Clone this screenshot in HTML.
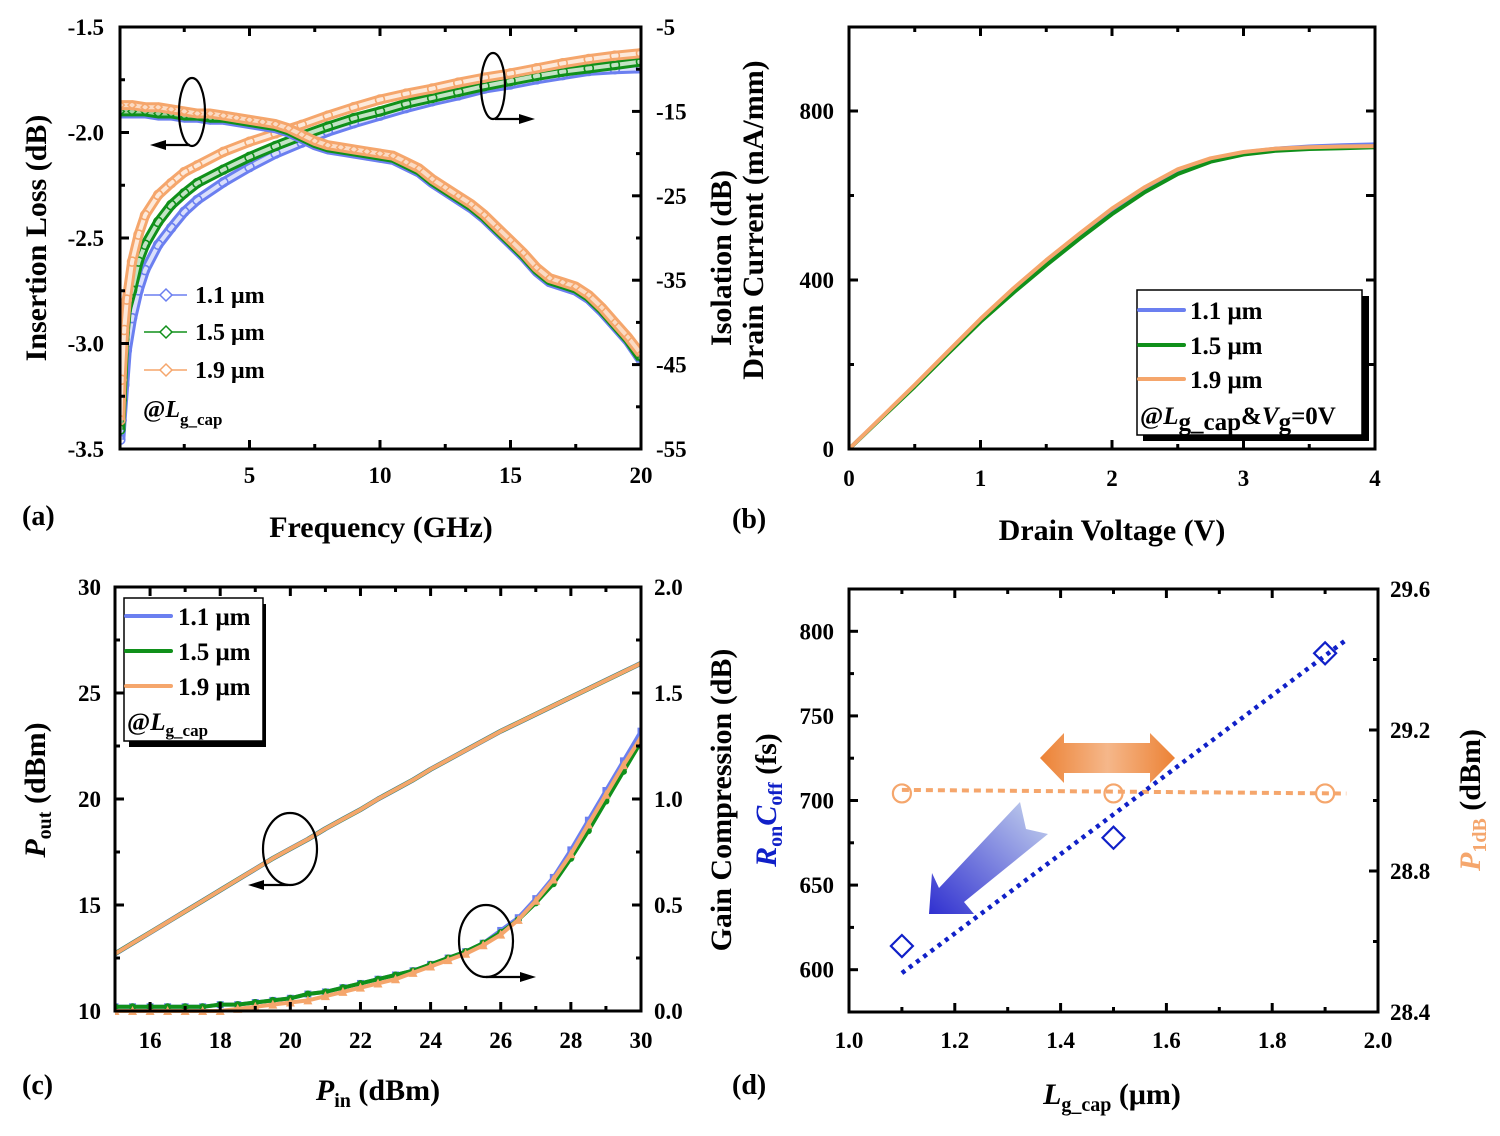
<!DOCTYPE html>
<html><head><meta charset="utf-8">
<style>
html,body{margin:0;padding:0;background:#fff;}
svg{display:block;font-family:"Liberation Serif",serif;font-weight:bold;}
</style></head>
<body>
<svg id="fig" width="1500" height="1136" viewBox="0 0 1500 1136" xmlns="http://www.w3.org/2000/svg">
<defs>
<linearGradient id="og" x1="0" x2="1" y1="0" y2="0"><stop offset="0" stop-color="#ec8235"/><stop offset="0.5" stop-color="#f5b78a"/><stop offset="1" stop-color="#ec8235"/></linearGradient>
<linearGradient id="bg" x1="1" y1="0" x2="0" y2="1"><stop offset="0" stop-color="#c8d6ee"/><stop offset="1" stop-color="#3030d0"/></linearGradient>
</defs>
<g id="root"></g>
</svg>
<script>
// ---------- Panel (a) data ----------
const isoFreq = [0.05,0.1,0.2,0.3,0.5,0.75,1,1.5,2,2.5,3,4,5,6,7,8,9,10,11,12,13,14,15,16,17,18,19,20];
const isoOrange = [-51.6,-46.8,-40.9,-37.3,-32.8,-29.6,-27.3,-24.9,-23.5,-22.2,-21.4,-19.8,-18.6,-17.6,-16.6,-15.5,-14.5,-13.6,-12.9,-12.3,-11.6,-11.0,-10.5,-9.9,-9.3,-8.8,-8.4,-8.1];
const isoGreen = [-52.7,-49.2,-42.0,-38.5,-36.2,-32.8,-30.8,-28.1,-26.1,-24.7,-23.5,-21.9,-20.4,-19.1,-17.9,-16.8,-15.8,-15.0,-14.1,-13.4,-12.7,-12.0,-11.4,-10.8,-10.3,-9.9,-9.5,-9.1];
const isoBlue = [-53.9,-51.6,-47.4,-43.3,-39.5,-36.2,-33.8,-30.8,-28.8,-26.9,-25.5,-23.4,-21.6,-20.0,-18.7,-17.4,-16.4,-15.5,-14.6,-13.8,-13.1,-12.3,-11.8,-11.2,-10.7,-10.2,-10.0,-9.9];
const ilFreq = [0.05,0.5,1,1.5,2,2.5,3,3.5,4,4.5,5,5.5,6,6.5,7,7.5,8,8.5,9,9.5,10,10.5,11,11.5,12,12.5,13,13.5,14,14.5,15,15.5,16,16.5,17,17.5,18,18.5,19,19.5,20];
const ilOrange = [-1.87,-1.87,-1.88,-1.88,-1.89,-1.90,-1.91,-1.91,-1.92,-1.93,-1.94,-1.95,-1.96,-1.98,-2.01,-2.04,-2.06,-2.07,-2.08,-2.09,-2.10,-2.11,-2.14,-2.17,-2.22,-2.26,-2.30,-2.34,-2.39,-2.45,-2.51,-2.57,-2.64,-2.69,-2.71,-2.73,-2.77,-2.83,-2.90,-2.97,-3.05];
const ilGreen = [-1.90,-1.90,-1.90,-1.91,-1.91,-1.92,-1.92,-1.93,-1.93,-1.94,-1.95,-1.96,-1.97,-1.99,-2.02,-2.05,-2.07,-2.08,-2.09,-2.10,-2.11,-2.12,-2.15,-2.18,-2.23,-2.27,-2.31,-2.35,-2.40,-2.46,-2.52,-2.58,-2.65,-2.70,-2.72,-2.74,-2.78,-2.84,-2.91,-2.98,-3.07];
const ilBlue = [-1.91,-1.91,-1.91,-1.92,-1.92,-1.93,-1.93,-1.94,-1.94,-1.95,-1.96,-1.97,-1.98,-2.00,-2.03,-2.06,-2.08,-2.09,-2.10,-2.11,-2.12,-2.13,-2.16,-2.19,-2.24,-2.28,-2.32,-2.36,-2.41,-2.47,-2.53,-2.59,-2.66,-2.71,-2.73,-2.75,-2.79,-2.85,-2.92,-2.99,-3.08];
const aXTicks = [5,10,15,20];
const aYTicks = [-1.5,-2.0,-2.5,-3.0,-3.5];
const aY2Ticks = [-5,-15,-25,-35,-45,-55];
// ---------- Panel (b) data ----------
const vd = [0,0.25,0.5,0.75,1,1.25,1.5,1.75,2,2.25,2.5,2.75,3,3.25,3.5,3.75,4];
const idBlue = [0,75,150,228,305,375,441,503,563,615,658,686,702,711,716,719,721];
const idGreen = [0,74,148,225,301,370,435,497,556,608,651,680,697,706,710,712,714];
const idOrange = [0,76,152,230,308,380,447,509,569,620,662,688,703,711,714,716,717];
const bXTicks = [0,1,2,3,4];
const bYTicks = [0,400,800];
// ---------- Panel (c) data ----------
const pin = [15,15.5,16,16.5,17,17.5,18,18.5,19,19.5,20,20.5,21,21.5,22,22.5,23,23.5,24,24.5,25,25.5,26,26.5,27,27.5,28,28.5,29,29.5,30];
const pout = [12.7,13.2,13.7,14.2,14.7,15.2,15.7,16.2,16.7,17.2,17.65,18.1,18.6,19.05,19.5,20.0,20.45,20.9,21.4,21.85,22.3,22.75,23.2,23.6,24.0,24.4,24.8,25.2,25.6,26.0,26.4];
const gcBlue = [0.02,0.02,0.02,0.02,0.02,0.02,0.03,0.03,0.04,0.05,0.06,0.08,0.09,0.11,0.13,0.15,0.17,0.19,0.22,0.25,0.28,0.32,0.38,0.44,0.53,0.63,0.76,0.90,1.04,1.18,1.32];
const gcGreen = [0.02,0.02,0.02,0.02,0.02,0.02,0.03,0.03,0.04,0.05,0.06,0.08,0.09,0.11,0.13,0.15,0.17,0.19,0.22,0.25,0.28,0.32,0.37,0.43,0.51,0.60,0.72,0.85,0.99,1.13,1.27];
const gcOrange = [0.0,0.0,0.0,0.0,0.0,0.0,0.0,0.01,0.02,0.03,0.04,0.05,0.07,0.09,0.11,0.13,0.15,0.18,0.21,0.24,0.27,0.31,0.36,0.43,0.52,0.62,0.74,0.88,1.02,1.16,1.29];
const cXTicks = [16,18,20,22,24,26,28,30];
const cYTicks = [10,15,20,25,30];
const cY2Ticks = [0.0,0.5,1.0,1.5,2.0];
// ---------- Panel (d) data ----------
const lg = [1.1,1.5,1.9];
const ronCoff = [614,678,787];
const p1dB = [29.02,29.02,29.02];
const fitX = [1.1,1.94];
const fitY = [598,795];
const p1fitX = [1.1,1.94];
const p1fitY = [29.03,29.02];
const dXTicks = [1.0,1.2,1.4,1.6,1.8,2.0];
const dYTicks = [600,650,700,750,800];
const dY2Ticks = [28.4,28.8,29.2,29.6];

const NS='http://www.w3.org/2000/svg';
const root=document.getElementById('root');
function mk(tag,attrs,parent,text){const e=document.createElementNS(NS,tag);for(const k in attrs)e.setAttribute(k,attrs[k]);if(text!==undefined)e.textContent=text;(parent||root).appendChild(e);return e;}
function lin(d0,d1,p0,p1){return v=>p0+(v-d0)*(p1-p0)/(d1-d0);}

const BLUE='#6b7ff0', GREEN='#10901a', ORANGE='#f5a66c';

function frame(g,x0,y0,x1,y1){
  const r=mk('rect',{x:x0,y:y0,width:x1-x0,height:y1-y0,fill:'none',stroke:'#000','stroke-width':3},g);
  
  
}
function xTicks(g,sx,vals,minor,y0,y1,fmt,labelY){
  vals.forEach(v=>{const x=sx(v);
    mk('line',{x1:x,x2:x,y1:y1,y2:y1-9,stroke:'#000','stroke-width':3},g);
    mk('line',{x1:x,x2:x,y1:y0,y2:y0+9,stroke:'#000','stroke-width':3},g);
    const t=mk('text',{x:x,y:labelY,'font-size':23,'text-anchor':'middle'},g,fmt(v));
    
    
  });
  minor.forEach(v=>{const x=sx(v);
    mk('line',{x1:x,x2:x,y1:y1,y2:y1-5,stroke:'#000','stroke-width':3},g);
    mk('line',{x1:x,x2:x,y1:y0,y2:y0+5,stroke:'#000','stroke-width':3},g);});
}
function yTicks(g,sy,vals,minor,xEdge,dir,fmt,labelX,anchor,labels){
  vals.forEach(v=>{const y=sy(v);
    mk('line',{x1:xEdge,x2:xEdge+dir*9,y1:y,y2:y,stroke:'#000','stroke-width':3},g);
    if(labels!==false){const t=mk('text',{x:labelX,y:y+8,'font-size':23,'text-anchor':anchor},g,fmt(v));
    
    }
  });
  minor.forEach(v=>{const y=sy(v);mk('line',{x1:xEdge,x2:xEdge+dir*5,y1:y,y2:y,stroke:'#000','stroke-width':3},g);});
}
function poly(g,xs,ys,sx,sy,attrs){
  return mk('polyline',Object.assign({points:xs.map((x,i)=>sx(x).toFixed(1)+','+sy(ys[i]).toFixed(1)).join(' '),fill:'none','stroke-linejoin':'round'},attrs),g);
}
function vtext(g,x,y,str,size,fill){
  return mk('text',{x:x,y:y,'font-size':size,'text-anchor':'middle',fill:fill||'#000',transform:`rotate(-90 ${x} ${y})`},g);
}

// ================= Panel (a) =================
(function(){
  const g=mk('g',{});
  
  
  const X0=120,X1=641,Y0=27,Y1=449;
  const sx=lin(0,20,119,641), sy=lin(-1.5,-3.5,Y0,Y1), sy2=lin(-5,-55,Y0,Y1);
  const clip=mk('clipPath',{id:'clipA'},g);mk('rect',{x:X0,y:Y0,width:X1-X0,height:Y1-Y0},clip);
  const dg=mk('g',{'clip-path':'url(#clipA)'},g);
  [[isoBlue,BLUE,'isolation-1.1um'],[isoGreen,GREEN,'isolation-1.5um'],[isoOrange,ORANGE,'isolation-1.9um']].forEach(([arr,c,n])=>{
    const s=mk('g',{},dg);
    
    
    poly(s,[0.0,...isoFreq],[-56,...arr],sx,sy2,{stroke:c,'stroke-width':1.5});
    poly(s,isoFreq,arr,sx,sy2,{stroke:c,'stroke-width':10});
    poly(s,isoFreq,arr,sx,sy2,{stroke:'#fff','stroke-width':4,'stroke-opacity':0.75});
    isoFreq.forEach((f,i)=>mk('circle',{cx:sx(f),cy:sy2(arr[i]),r:4.5,fill:'none',stroke:c,'stroke-width':1.6},s));
  });
  [[ilBlue,BLUE,'insertion-loss-1.1um'],[ilGreen,GREEN,'insertion-loss-1.5um'],[ilOrange,ORANGE,'insertion-loss-1.9um']].forEach(([arr,c,n])=>{
    const s=mk('g',{},dg);
    
    
    poly(s,ilFreq,arr,sx,sy,{stroke:c,'stroke-width':10});
    poly(s,ilFreq,arr,sx,sy,{stroke:'#fff','stroke-width':4,'stroke-opacity':0.6});
    ilFreq.forEach((f,i)=>{const x=sx(f),y=sy(arr[i]);mk('path',{d:`M${x-4},${y} L${x},${y-4} L${x+4},${y} L${x},${y+4}Z`,fill:'none',stroke:c,'stroke-width':1.5},s);});
  });
  frame(g,X0,Y0,X1,Y1);
  xTicks(g,sx,aXTicks,[2.5,7.5,12.5,17.5],Y0,Y1,v=>v,483);
  yTicks(g,sy,aYTicks,[-1.75,-2.25,-2.75,-3.25],X0,1,v=>v.toFixed(1),104,'end');
  yTicks(g,sy2,aY2Ticks,[-10,-20,-30,-40,-50],X1,-1,v=>v,656,'start');
  const lg_=mk('g',{},g);
  
  
  [['1.1 μm',BLUE,295],['1.5 μm',GREEN,332],['1.9 μm',ORANGE,370]].forEach(([t,c,y])=>{
    const e=mk('g',{},lg_);
    
    
    mk('line',{x1:144,x2:187,y1:y,y2:y,stroke:c,'stroke-width':1.5},e);
    mk('path',{d:`M160,${y} L166,${y-6} L172,${y} L166,${y+6}Z`,fill:'#fff',stroke:c,'stroke-width':1.5},e);
    mk('text',{x:195,y:y+8,'font-size':24},e,t);
  });
  const at=mk('text',{x:143,y:417,'font-size':24},lg_);
  at.innerHTML='@<tspan font-style="italic">L</tspan><tspan font-size="17" dy="8">g_cap</tspan>';
  const an=mk('g',{fill:'none',stroke:'#000','stroke-width':2.2},g);
  
  
  mk('ellipse',{cx:192,cy:112,rx:13,ry:34},an);
  mk('line',{x1:190,x2:160,y1:145,y2:145},an);
  mk('path',{d:'M150,145 L166,140 L166,150Z',fill:'#000',stroke:'none'},an);
  mk('ellipse',{cx:493,cy:86,rx:12,ry:33},an);
  mk('line',{x1:495,x2:525,y1:119,y2:119},an);
  mk('path',{d:'M535,119 L519,114 L519,124Z',fill:'#000',stroke:'none'},an);
  const t1=vtext(g,46,238,'',30);t1.textContent='Insertion Loss (dB)';
  
  
  const t2=vtext(g,731,258,'',30);t2.textContent='Isolation (dB)';
  
  
  const t3=mk('text',{x:381,y:537,'font-size':30,'text-anchor':'middle'},g,'Frequency (GHz)');
  
  
  const pl=mk('text',{x:22,y:525,'font-size':28},g,'(a)');
  
  
})();

// ================= Panel (b) =================
(function(){
  const g=mk('g',{});
  
  
  const X0=849,X1=1375,Y0=27,Y1=449;
  const sx=lin(0,4,X0,X1), sy=lin(0,800,Y1,111);
  [[idBlue,BLUE,'drain-current-1.1um'],[idGreen,GREEN,'drain-current-1.5um'],[idOrange,ORANGE,'drain-current-1.9um']].forEach(([arr,c,n])=>{
    const p=poly(g,vd,arr,sx,sy,{stroke:c,'stroke-width':4});
    
    
  });
  frame(g,X0,Y0,X1,Y1);
  xTicks(g,sx,bXTicks,[0.5,1.5,2.5,3.5],Y0,Y1,v=>v,486);
  yTicks(g,sy,bYTicks,[200,600],X0,1,v=>v,834,'end');
  yTicks(g,sy,[200,400,600,800],[],X1,-1,v=>v,0,'start',false);
  const lgd=mk('g',{},g);
  
  
  mk('rect',{x:1143,y:296,width:226,height:145,fill:'#000'},lgd);
  mk('rect',{x:1137,y:290,width:225,height:145,fill:'#fff',stroke:'#000','stroke-width':1.5},lgd);
  [['1.1 μm',BLUE,310],['1.5 μm',GREEN,345],['1.9 μm',ORANGE,379]].forEach(([t,c,y])=>{
    const e=mk('g',{},lgd);
    
    
    mk('line',{x1:1139,x2:1184,y1:y,y2:y,stroke:c,'stroke-width':4,'stroke-linecap':'round'},e);
    mk('text',{x:1190,y:y+9,'font-size':25},e,t);
  });
  const at=mk('text',{x:1140,y:424,'font-size':25},lgd);
  at.innerHTML='@<tspan font-style="italic">L</tspan><tspan dy="6">g_cap</tspan><tspan dy="-6">&amp;</tspan><tspan font-style="italic">V</tspan><tspan dy="6">g</tspan><tspan dy="-6">=0V</tspan>';
  const t=vtext(g,763,220,'',30);t.textContent='Drain Current (mA/mm)';
  
  
  const tx=mk('text',{x:1112,y:540,'font-size':30,'text-anchor':'middle'},g,'Drain Voltage (V)');
  
  
  const pl=mk('text',{x:732,y:528,'font-size':28},g,'(b)');
  
  
})();

// ================= Panel (c) =================
(function(){
  const g=mk('g',{});
  
  
  const X0=115,X1=641,Y0=587,Y1=1011;
  const sx=lin(15,30,X0,X1), sy=lin(10,30,Y1,Y0), sy2=lin(0,2,Y1,Y0);
  const clip=mk('clipPath',{id:'clipC'},g);mk('rect',{x:X0,y:Y0,width:X1-X0,height:Y1-Y0+8},clip);
  const dg=mk('g',{'clip-path':'url(#clipC)'},g);
  [[BLUE,'pout-1.1um',5],[GREEN,'pout-1.5um',4.5],[ORANGE,'pout-1.9um',4]].forEach(([c,n,w])=>{
    const p=poly(dg,pin,pout,sx,sy,{stroke:c,'stroke-width':w});
    
    
  });
  const sb=mk('g',{},dg);
  
  
  poly(sb,pin,gcBlue,sx,sy2,{stroke:BLUE,'stroke-width':4});
  pin.forEach((p,i)=>mk('rect',{x:sx(p)-3.5,y:sy2(gcBlue[i])-3.5,width:7,height:7,fill:BLUE},sb));
  const sgn=mk('g',{},dg);
  
  
  poly(sgn,pin,gcGreen,sx,sy2,{stroke:GREEN,'stroke-width':4});
  pin.forEach((p,i)=>mk('circle',{cx:sx(p),cy:sy2(gcGreen[i]),r:3.5,fill:GREEN},sgn));
  const so=mk('g',{},dg);
  
  
  poly(so,pin,gcOrange,sx,sy2,{stroke:ORANGE,'stroke-width':4});
  pin.forEach((p,i)=>{const x=sx(p),y=sy2(gcOrange[i]);mk('path',{d:`M${x-4.5},${y+4} L${x+4.5},${y+4} L${x},${y-5}Z`,fill:ORANGE},so);});
  frame(g,X0,Y0,X1,Y1);
  xTicks(g,sx,cXTicks,[17,19,21,23,25,27,29],Y0,Y1,v=>v,1048);
  yTicks(g,sy,cYTicks,[12.5,17.5,22.5,27.5],X0,1,v=>v,101,'end');
  yTicks(g,sy2,cY2Ticks,[0.25,0.75,1.25,1.75],X1,-1,v=>v.toFixed(1),654,'start');
  const lgd=mk('g',{},g);
  
  
  mk('rect',{x:129,y:604,width:137,height:143,fill:'#000'},lgd);
  mk('rect',{x:124,y:598,width:139,height:143,fill:'#fff',stroke:'#000','stroke-width':1.5},lgd);
  [['1.1 μm',BLUE,616],['1.5 μm',GREEN,651],['1.9 μm',ORANGE,686]].forEach(([t,c,y])=>{
    const e=mk('g',{},lgd);
    
    
    mk('line',{x1:126,x2:171,y1:y,y2:y,stroke:c,'stroke-width':4,'stroke-linecap':'round'},e);
    mk('text',{x:178,y:y+9,'font-size':25},e,t);
  });
  const at=mk('text',{x:127,y:730,'font-size':25},lgd);
  at.innerHTML='@<tspan font-style="italic">L</tspan><tspan font-size="17" dy="6">g_cap</tspan>';
  const an=mk('g',{fill:'none',stroke:'#000','stroke-width':2.2},g);
  
  
  mk('ellipse',{cx:290,cy:849,rx:27,ry:36},an);
  mk('line',{x1:288,x2:258,y1:885,y2:885},an);
  mk('path',{d:'M248,885 L264,880 L264,890Z',fill:'#000',stroke:'none'},an);
  mk('ellipse',{cx:486,cy:941,rx:27,ry:36},an);
  mk('line',{x1:486,x2:526,y1:977,y2:977},an);
  mk('path',{d:'M536,977 L520,972 L520,982Z',fill:'#000',stroke:'none'},an);
  const t1=mk('text',{'font-size':30,'text-anchor':'middle',transform:'rotate(-90 45 790)',x:45,y:790},g);
  t1.innerHTML='<tspan font-style="italic">P</tspan><tspan font-size="20" dy="6">out</tspan><tspan dy="-6"> (dBm)</tspan>';
  
  
  const t2=vtext(g,731,800,'',30);t2.textContent='Gain Compression (dB)';
  
  
  const tx=mk('text',{x:378,y:1100,'font-size':30,'text-anchor':'middle'},g);
  tx.innerHTML='<tspan font-style="italic">P</tspan><tspan font-size="20" dy="7">in</tspan><tspan dy="-7"> (dBm)</tspan>';
  
  
  const pl=mk('text',{x:22,y:1094,'font-size':28},g,'(c)');
  
  
})();

// ================= Panel (d) =================
(function(){
  const g=mk('g',{});
  
  
  const X0=849,X1=1378,Y0=589,Y1=1012;
  const sx=lin(1.0,2.0,X0,X1), sy=lin(575,825,Y1,Y0), sy2=lin(28.4,29.6,Y1,Y0);
  const oa=mk('path',{d:'M1040,758 L1064,733 L1064,743 L1150,743 L1150,733 L1175,758 L1150,783 L1150,773 L1064,773 L1064,783Z',fill:'url(#og)'},g);
  
  
  const ba=mk('path',{d:'M1020,802 L1026,829 L1048,834 L964,902 L974,914 L929,914 L932,873 L939,888Z',fill:'url(#bg)'},g);
  
  
  const pf=poly(g,p1fitX,p1fitY,sx,sy2,{stroke:'#f5a66c','stroke-width':4,'stroke-dasharray':'7 5'});
  
  
  const bf=poly(g,fitX,fitY,sx,sy,{stroke:'#1020c8','stroke-width':4.5,'stroke-dasharray':'4 5'});
  
  
  lg.forEach((l,i)=>{
    const x=sx(l),y=sy(ronCoff[i]);
    const d=mk('path',{d:`M${x-11},${y} L${x},${y-11} L${x+11},${y} L${x},${y+11}Z`,fill:'none',stroke:'#1020c8','stroke-width':2.2},g);
    
    
    const c=mk('circle',{cx:x,cy:sy2(p1dB[i]),r:9,fill:'none',stroke:'#f5a66c','stroke-width':2.2},g);
    
    
  });
  frame(g,X0,Y0,X1,Y1);
  xTicks(g,sx,dXTicks,[1.1,1.3,1.5,1.7,1.9],Y0,Y1,v=>v.toFixed(1),1048);
  yTicks(g,sy,dYTicks,[625,675,725,775,825],X0,1,v=>v,834,'end');
  yTicks(g,sy2,dY2Ticks,[28.6,29.0,29.4],X1,-1,v=>v.toFixed(1),1390,'start');
  const t1=mk('text',{'font-size':30,'text-anchor':'middle',fill:'#1020c8',transform:'rotate(-90 776 800)',x:776,y:800},g);
  t1.innerHTML='<tspan font-style="italic">R</tspan><tspan font-size="20" dy="6">on</tspan><tspan dy="-6" font-style="italic">C</tspan><tspan font-size="20" dy="6">off</tspan><tspan dy="-6" fill="#000"> (fs)</tspan>';
  
  
  const t2=mk('text',{'font-size':30,'text-anchor':'middle',fill:'#f5a66c',transform:'rotate(-90 1480 800)',x:1480,y:800},g);
  t2.innerHTML='<tspan font-style="italic">P</tspan><tspan font-size="20" dy="6">1dB</tspan><tspan dy="-6" fill="#000"> (dBm)</tspan>';
  
  
  const tx=mk('text',{x:1112,y:1104,'font-size':30,'text-anchor':'middle'},g);
  tx.innerHTML='<tspan font-style="italic">L</tspan><tspan font-size="20" dy="7">g_cap</tspan><tspan dy="-7"> (μm)</tspan>';
  
  
  const pl=mk('text',{x:732,y:1094,'font-size':28},g,'(d)');
  
  
})();
</script>
</body></html>
